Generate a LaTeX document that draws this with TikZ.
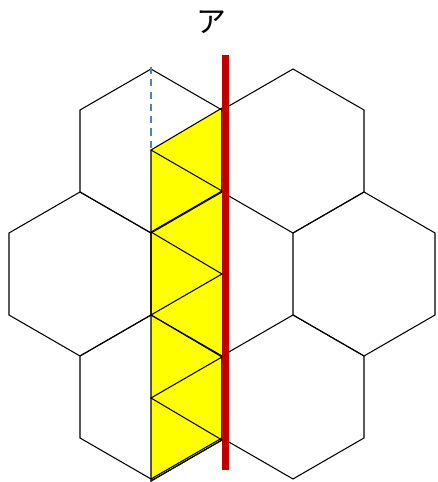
\documentclass[tikz,border=0pt]{standalone}
\usepackage{fontspec}
\newfontfamily\jpfont{Noto Sans CJK JP}
\usetikzlibrary{calc}
\definecolor{stripyellow}{RGB}{255,255,0}
\definecolor{axisred}{RGB}{192,0,0}
\definecolor{dashblue}{RGB}{79,129,189}
\tikzset{
  hexa/.style={draw=black, line width=0.6pt, line join=miter},
  strip/.style={fill=stripyellow, draw=black, line width=0.6pt},
  zig/.style={draw=black, line width=0.6pt},
  guide/.style={draw=dashblue, line width=0.9pt, dash pattern=on 4pt off 3pt},
  axis/.style={draw=axisred, line width=4pt},
  tag/.style={font=\jpfont\fontsize{17}{20}\selectfont, inner sep=0pt},
}
\begin{document}
\begin{tikzpicture}[x=0.02cm,y=-0.02cm]
  \useasboundingbox (0,0) rectangle (438,482);
  % centre of the (undrawn) middle hexagon and side length
  \coordinate (mid) at (222,274);
  \def\side{82}
  % left column of the strip (l1..l5) and right column (r1..r5)
  \foreach \i/\y in {1/150,2/232,3/315,4/398,5/481}{\coordinate (l\i) at (151,\y);}
  \foreach \i/\y in {1/108,2/191,3/274,4/357,5/440}{\coordinate (r\i) at (222,\y);}
  % yellow strip
  \fill[stripyellow] (l1) -- (r1) -- (r5) -- (l5) -- cycle;
  \draw[strip, fill=none] (l1) -- (l5) -- (r5);
  \draw[zig] (r1) -- (l1) -- (r2) -- (l2) -- (r3) -- (l3) -- (r4) -- (l4) -- (r5) -- (l5);
  % six hexagons round the middle one
  \foreach \a in {0,60,...,300}{
    \coordinate (h\a) at ($(mid)+(\a:142)$);
    \draw[hexa] (h\a) +(90:\side) -- +(30:\side) -- +(-30:\side) -- +(-90:\side)
      -- +(-150:\side) -- +(150:\side) -- cycle;
  }
  % dashed guide from the apex of the top left hexagon
  \coordinate (apex) at (151,67);
  \draw[guide] (apex) -- (l1);
  % red axis
  \coordinate (axtop) at (225.5,55);
  \coordinate (axbot) at (225.5,470);
  \draw[axis] (axtop) -- (axbot);
  \node[tag] (name) at (211,22) {ア};
\end{tikzpicture}
\end{document}
